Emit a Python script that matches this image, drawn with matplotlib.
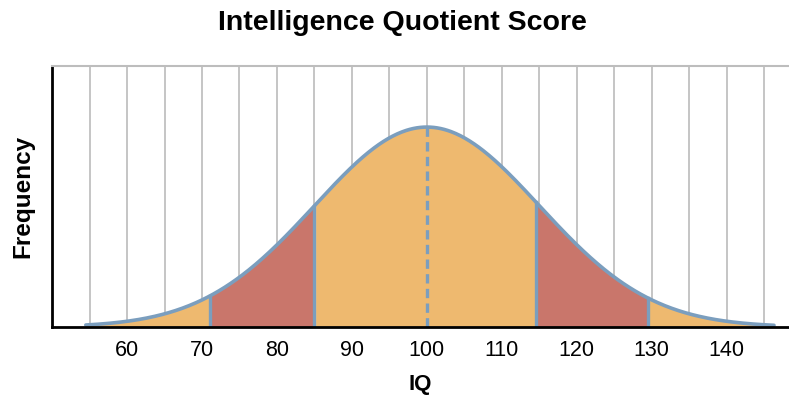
import matplotlib.pyplot as plt
import numpy as np

plt.rcParams["font.family"] = ["Liberation Sans", "DejaVu Sans"]

# distribution parameters
iq_mean = 100
iq_sd = 15
curve_start, curve_end = 54.5, 146.3
band_edges = [71, 85, 114.5, 129.5]
tick_values = [60, 70, 80, 90, 100, 110, 120, 130, 140]
grid_values = list(range(55, 150, 5))

orange = "#EEB96F"
red = "#C9766B"
blue = "#7B9EBE"

x = np.linspace(curve_start, curve_end, 600)
y = np.exp(-0.5 * ((x - iq_mean) / iq_sd) ** 2)
peak = 1.0

fig = plt.figure(figsize=(7.89, 4.0), dpi=100)
ax = fig.add_axes([0.066, 0.1825, 0.934, 0.6525])

for g in grid_values:
    ax.axvline(g, color="#B5B5B5", lw=1.1, zorder=1)

# alternating colour bands under the curve
lo, a, b, hi = band_edges
ax.fill_between(x, 0, y, where=(x <= lo), color=orange, lw=0, zorder=2)
ax.fill_between(x, 0, y, where=(x >= lo) & (x <= a), color=red, lw=0, zorder=2)
ax.fill_between(x, 0, y, where=(x >= a) & (x <= b), color=orange, lw=0, zorder=2)
ax.fill_between(x, 0, y, where=(x >= b) & (x <= hi), color=red, lw=0, zorder=2)
ax.fill_between(x, 0, y, where=(x >= hi), color=orange, lw=0, zorder=2)

for e in band_edges:
    h = np.exp(-0.5 * ((e - iq_mean) / iq_sd) ** 2)
    ax.plot([e, e], [0, h], color=blue, lw=2.4, zorder=3)

ax.plot([iq_mean, iq_mean], [0, peak], color=blue, lw=2.4,
        linestyle=(0, (2.8, 1.6)), zorder=3)
ax.plot(x, y, color=blue, lw=2.6, zorder=4, solid_capstyle="round")

ax.set_xlim(50, 148.3)
ax.set_ylim(0, peak / 0.766)

ax.set_xticks(tick_values)
ax.set_xticklabels([str(t) for t in tick_values], fontsize=15.5)
ax.tick_params(axis="x", length=0, pad=9)
ax.set_yticks([])

ax.spines["right"].set_visible(False)
ax.spines["top"].set_color("#BDBDBD")
ax.spines["top"].set_linewidth(1.5)
ax.spines["left"].set_linewidth(2)
ax.spines["bottom"].set_linewidth(2)
ax.spines["bottom"].set_zorder(5)

ax.set_xlabel("IQ", fontsize=16, fontweight="bold", labelpad=10)
ax.set_ylabel("Frequency", fontsize=17.5, fontweight="bold", labelpad=13)
fig.suptitle("Intelligence Quotient Score", fontsize=20.5, fontweight="bold",
             x=0.51, y=0.975)

fig.savefig("out.png", dpi=100)
